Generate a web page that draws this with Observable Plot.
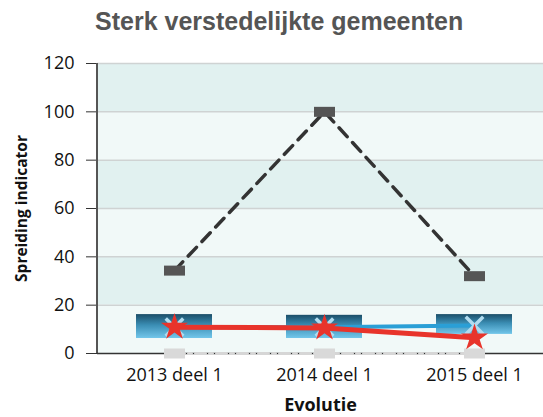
<!DOCTYPE html>
<html>
<head>
<meta charset="utf-8">
<script src="https://cdn.jsdelivr.net/npm/d3@7"></script>
<script src="https://cdn.jsdelivr.net/npm/@observablehq/plot@0.6"></script>
<style>
  body { margin: 0; background: #fff; }
  #title { height: 50px; box-sizing: border-box; padding-top: 8px; padding-left: 95px;
           font: bold 25px "Liberation Sans", Arial, sans-serif; line-height: 26px; color: #555; white-space: nowrap; }
  #chart svg { overflow: hidden; display: block; }
  g[aria-label="y-axis label"] text { font-weight: bold; font-size: 15.5px; }
  g[aria-label="x-axis label"] text { font-weight: bold; }
</style>
</head>
<body>
<div id="title">Sterk verstedelijkte gemeenten</div>
<div id="chart"></div>
<script>
const categories = ["2013 deel 1", "2014 deel 1", "2015 deel 1"];
const maxValues = [34.3, 100, 32];
const minValues = [0, 0, 0];
const boxLow = [6.2, 6.2, 7.9];
const boxHigh = [16.1, 15.8, 16.1];
const blueValues = [10.9, 10.9, 11.6];
const redValues = [10.9, 10.6, 6.5];
const yTicks = [0, 20, 40, 60, 80, 100, 120];
const darkBandLow = [20, 60, 100];
const darkBandHigh = [40, 80, 120];
const lightBandLow = [0, 40, 80];
const lightBandHigh = [20, 60, 100];

const rows = (vals) => categories.map((c, i) => ({cat: c, v: vals[i]}));
const boxes = categories.map((c, i) => ({cat: c, lo: boxLow[i], hi: boxHigh[i]}));
const darkBands = darkBandLow.map((l, i) => ({lo: l, hi: darkBandHigh[i]}));
const lightBands = lightBandLow.map((l, i) => ({lo: l, hi: lightBandHigh[i]}));

const wideRect = {
  draw(context, size) {
    const r = Math.sqrt(size / Math.PI);
    context.rect(-1.05 * r, -0.5 * r, 2.1 * r, r);
  }
};

function findDims(args) {
  for (const a of args) if (a && typeof a === "object" && "marginLeft" in a && "height" in a) return a;
  return null;
}

const defsMark = () => {
  const g = d3.create("svg:g");
  const grad = g.append("defs").append("linearGradient")
    .attr("id", "boxGrad").attr("x1", 0).attr("y1", 0).attr("x2", 0).attr("y2", 1);
  grad.append("stop").attr("offset", "0%").attr("stop-color", "#1b4e68");
  grad.append("stop").attr("offset", "45%").attr("stop-color", "#3a8db3");
  grad.append("stop").attr("offset", "100%").attr("stop-color", "#72c6ea");
  return g.node();
};

const leftLine = function(...args) {
  const d = findDims(args);
  const g = d3.create("svg:g");
  if (d) {
    g.append("line").attr("x1", d.marginLeft).attr("x2", d.marginLeft)
      .attr("y1", d.marginTop).attr("y2", d.height - d.marginBottom)
      .attr("stroke", "#555").attr("stroke-width", 2);
  }
  return g.node();
};

const chart = Plot.plot({
  width: 543,
  height: 367,
  marginTop: 13,
  marginBottom: 64,
  marginLeft: 97,
  marginRight: 0,
  style: {fontFamily: "'Open Sans', 'Noto Sans', sans-serif", fontSize: "16px", color: "#111", background: "transparent"},
  x: {type: "band", domain: categories, range: [98, 549], padding: 0},
  y: {domain: [0, 120], ticks: yTicks},
  marks: [
    defsMark,
    Plot.rect(darkBands, {y1: "lo", y2: "hi", fill: "#e1f1f0"}),
    Plot.rect(lightBands, {y1: "lo", y2: "hi", fill: "#f1f9f8"}),
    Plot.ruleY(yTicks.filter(t => t > 0), {stroke: "#cfd3d3", strokeWidth: 1.5}),
    Plot.axisY({ticks: yTicks, tickSize: 11, tickPadding: 12, stroke: "#333", fontSize: 18,
      label: "Spreiding indicator", labelAnchor: "center", labelOffset: 82, labelArrow: "none"}),
    Plot.axisX({tickSize: 0, tickPadding: 15, fontSize: 18,
      label: "Evolutie", labelAnchor: "center", labelOffset: 57, labelArrow: "none"}),
    Plot.rect(boxes, {x: "cat", y1: "lo", y2: "hi", fill: "url(#boxGrad)", insetLeft: 37, insetRight: 37}),
    leftLine,
    Plot.ruleY([0], {stroke: "#333", strokeWidth: 1.5}),
    Plot.line(rows(minValues), {x: "cat", y: "v", stroke: "#d6d6d6", strokeWidth: 3, strokeDasharray: "10,4,3,4"}),
    Plot.dot(rows(minValues), {x: "cat", y: "v", symbol: wideRect, r: 10, fill: "#d9d9d9", stroke: "none"}),
    Plot.line(rows(blueValues), {x: "cat", y: "v", stroke: "#2a9fd6", strokeWidth: 4}),
    Plot.dot(rows(blueValues), {x: "cat", y: "v", symbol: "times", r: 8, stroke: "#b1dcef", strokeWidth: 3.5}),
    Plot.line(rows(redValues), {x: "cat", y: "v", stroke: "#e8342b", strokeWidth: 5}),
    Plot.dot(rows(redValues), {x: "cat", y: "v", symbol: "star", r: 8.5, fill: "#e8342b", stroke: "none"}),
    Plot.line(rows(maxValues), {x: "cat", y: "v", stroke: "#333", strokeWidth: 3.5, strokeDasharray: "12,8"}),
    Plot.dot(rows(maxValues), {x: "cat", y: "v", symbol: wideRect, r: 10, fill: "#555", stroke: "none"})
  ]
});
document.getElementById("chart").appendChild(chart);
</script>
</body>
</html>
